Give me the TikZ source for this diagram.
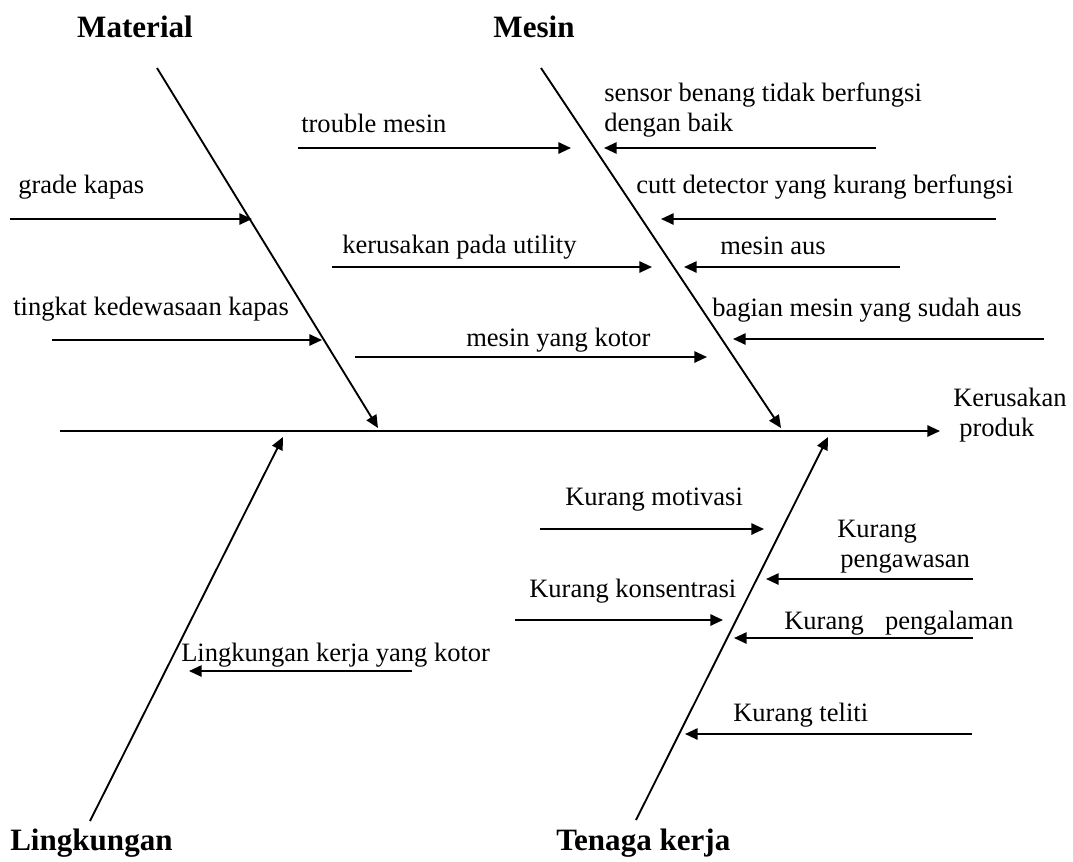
\documentclass[tikz,border=0pt]{standalone}
\usepackage{fontspec}
\setmainfont{Liberation Serif}
\usetikzlibrary{arrows.meta}
\begin{document}
\begin{tikzpicture}[x=0.75pt,y=-0.75pt,
  bone/.style={line width=1.3pt},
  arr/.style={line width=1.4pt,-{Triangle[length=9.5pt,width=8.5pt]}},
  lbl/.style={anchor=base west,inner sep=0pt,font=\fontsize{19.9}{23}\selectfont},
  ttl/.style={anchor=base,inner sep=0pt,font=\fontsize{23.3}{27}\selectfont\bfseries},
  ttlw/.style={anchor=base west,inner sep=0pt,font=\fontsize{23.3}{27}\selectfont\bfseries}]
\useasboundingbox (0,0) rectangle (1073,861);

% titles
\node[ttl] (tmat) at (135,37) {Material};
\node[ttl] (tmes) at (534,37) {Mesin};
\node[ttlw] (tlin) at (10,850) {Lingkungan};
\node[ttlw] (tten) at (556,850) {Tenaga kerja};

% spine and effect
\coordinate (sp0) at (60,431);
\coordinate (sp1) at (940,431);
\draw[arr] (sp0) -- (sp1);
\node[lbl] (eff1) at (953,406) {Kerusakan};
\node[lbl] (eff2) at (959,436) {produk};

% main bones
\coordinate (ma0) at (157,68);  \coordinate (ma1) at (378,428);
\coordinate (me0) at (541,68);  \coordinate (me1) at (781,428);
\coordinate (li0) at (90,821);  \coordinate (li1) at (283,437);
\coordinate (te0) at (636,820); \coordinate (te1) at (828,437);
\draw[arr] (ma0) -- (ma1);
\draw[arr] (me0) -- (me1);
\draw[arr] (li0) -- (li1);
\draw[arr] (te0) -- (te1);

% Material causes
\node[lbl] (c1) at (18,193) {grade kapas};
\coordinate (a1s) at (10,219); \coordinate (a1e) at (252,219);
\draw[arr] (a1s) -- (a1e);
\node[lbl] (c2) at (13,315) {tingkat kedewasaan kapas};
\coordinate (a2s) at (52,340); \coordinate (a2e) at (322,340);
\draw[arr] (a2s) -- (a2e);

% Mesin causes (left)
\node[lbl] (c3) at (301,132) {trouble mesin};
\coordinate (a3s) at (298,148); \coordinate (a3e) at (571,148);
\draw[arr] (a3s) -- (a3e);
\node[lbl] (c4) at (342,253) {kerusakan pada utility};
\coordinate (a4s) at (332,267); \coordinate (a4e) at (652,267);
\draw[arr] (a4s) -- (a4e);
\node[lbl] (c5) at (466,346) {mesin yang kotor};
\coordinate (a5s) at (355,357); \coordinate (a5e) at (707,357);
\draw[arr] (a5s) -- (a5e);

% Mesin causes (right)
\node[lbl] (c6a) at (604,101) {sensor benang tidak berfungsi};
\node[lbl] (c6b) at (604,131) {dengan baik};
\coordinate (a6s) at (876,148); \coordinate (a6e) at (604,148);
\draw[arr] (a6s) -- (a6e);
\node[lbl] (c7) at (636,193) {cutt detector yang kurang berfungsi};
\coordinate (a7s) at (996,219); \coordinate (a7e) at (661,219);
\draw[arr] (a7s) -- (a7e);
\node[lbl] (c8) at (720,254) {mesin aus};
\coordinate (a8s) at (900,267); \coordinate (a8e) at (684,267);
\draw[arr] (a8s) -- (a8e);
\node[lbl] (c9) at (712,316) {bagian mesin yang sudah aus};
\coordinate (a9s) at (1044,339); \coordinate (a9e) at (733,339);
\draw[arr] (a9s) -- (a9e);

% Lingkungan cause
\node[lbl] (c10) at (181,661) {Lingkungan kerja yang kotor};
\coordinate (a10s) at (412,671); \coordinate (a10e) at (189,671);
\draw[arr] (a10s) -- (a10e);

% Tenaga kerja causes
\node[lbl] (c11) at (565,505) {Kurang motivasi};
\coordinate (a11s) at (540,529); \coordinate (a11e) at (764,529);
\draw[arr] (a11s) -- (a11e);
\node[lbl] (c12a) at (837,537) {Kurang};
\node[lbl] (c12b) at (840,567) {pengawasan};
\coordinate (a12s) at (973,579); \coordinate (a12e) at (766,579);
\draw[arr] (a12s) -- (a12e);
\node[lbl] (c13) at (529,597) {Kurang konsentrasi};
\coordinate (a13s) at (515,620); \coordinate (a13e) at (723,620);
\draw[arr] (a13s) -- (a13e);
\node[lbl] (c14) at (784,629) {Kurang\hspace{0.8em}pengalaman};
\coordinate (a14s) at (973,638); \coordinate (a14e) at (734,638);
\draw[arr] (a14s) -- (a14e);
\node[lbl] (c15) at (733,721) {Kurang teliti};
\coordinate (a15s) at (972,734); \coordinate (a15e) at (685,734);
\draw[arr] (a15s) -- (a15e);
\end{tikzpicture}
\end{document}
